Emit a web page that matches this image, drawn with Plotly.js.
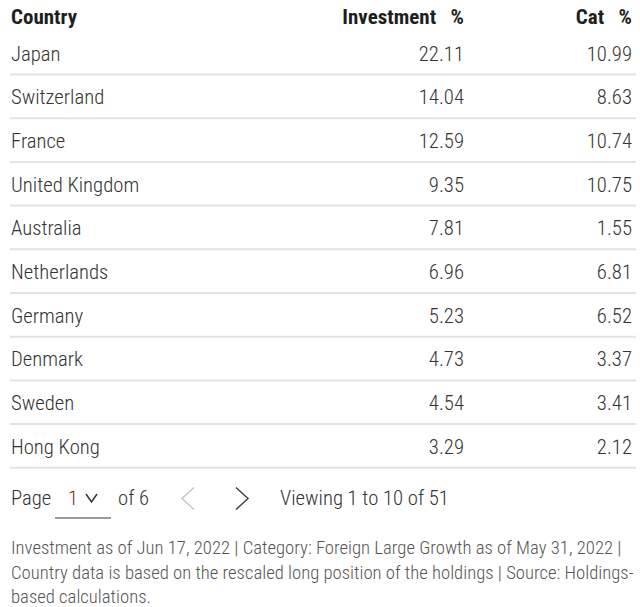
<!DOCTYPE html>
<html><head><meta charset="utf-8">
<script src="https://cdn.plot.ly/plotly-3.0.1.min.js"></script>
<style>html,body{margin:0;padding:0;background:#fff;overflow:hidden}#chart{width:640px;height:610px;margin-top:-3px}</style>
</head><body><div id="chart"></div>
<script>
const headers = ["Country", "Investment\u00a0\u00a0\u00a0%", "Cat\u00a0\u00a0\u00a0%"];
const countries = ["Japan","Switzerland","France","United Kingdom","Australia","Netherlands","Germany","Denmark","Sweden","Hong Kong"];
const investment = [22.11,14.04,12.59,9.35,7.81,6.96,5.23,4.73,4.54,3.29];
const category = [10.99,8.63,10.74,10.75,1.55,6.81,6.52,3.37,3.41,2.12];
const footnoteLines = [
  "Investment as of Jun 17, 2022 | Category: Foreign Large Growth as of May 31, 2022 |",
  "Country data is based on the rescaled long position of the holdings | Source: Holdings-",
  "based calculations."
];

const OFF = 3;                 // page is drawn 3px higher; screen y = layout y - OFF
const W = 640, H = 607 + OFF;
const FONT = "'Roboto Condensed', 'Liberation Sans Narrow', 'Arial Narrow', 'DejaVu Sans Condensed', sans-serif";
const headerH = 28.5, rowH = 43.7;
const firstLine = 74.5;        // screen y of first separator
const x0 = 3;

const trace = {
  type: "table",
  domain: {x: [x0 / W, 1], y: [0, 1]},
  columnwidth: [297, 172, 168],
  header: {
    values: headers.map(h => "<b>" + h + "</b>"),
    align: ["left", "right", "right"],
    height: headerH,
    fill: {color: "#fff"},
    line: {width: 0, color: "#fff"},
    font: {family: FONT, size: 21, color: "#1e1e1e"}
  },
  cells: {
    values: [countries, investment.map(v => v.toFixed(2)), category.map(v => v.toFixed(2))],
    align: ["left", "right", "right"],
    height: rowH,
    fill: {color: "#fff"},
    line: {width: 0, color: "#fff"},
    font: {family: FONT, size: 20.7, weight: 300, color: "#333"}
  }
};

const px = x => x / W, py = y => 1 - (y + OFF) / H;
const shapes = [];
for (let i = 0; i < countries.length; i++) {
  const yb = firstLine + rowH * i;
  shapes.push({type: "line", xref: "paper", yref: "paper", x0: px(10), x1: px(636),
    y0: py(yb), y1: py(yb), line: {color: "#e2e2e2", width: 2}});
}
// pager decorations
shapes.push({type: "line", xref: "paper", yref: "paper", x0: px(55), x1: px(111),
  y0: py(518), y1: py(518), line: {color: "#9a9a9a", width: 2}});
function chevron(pts, color, w) {
  return {type: "path", xref: "paper", yref: "paper",
    path: "M" + pts.map(p => px(p[0]) + "," + py(p[1])).join(" L"),
    line: {color, width: w}};
}
shapes.push(chevron([[86, 494], [91.5, 502], [97, 494]], "#333", 1.5));
shapes.push(chevron([[194, 487.5], [182, 498.5], [194, 509.5]], "#c4c4c4", 1.5));
shapes.push(chevron([[236, 487.5], [248, 498.5], [236, 509.5]], "#444", 1.5));

function ann(text, x, y, color, size, weight) {
  return {text, x: px(x), y: py(y), xref: "paper", yref: "paper", showarrow: false,
    xanchor: "left", yanchor: "middle", align: "left",
    font: {family: FONT, size: size || 20.7, weight: weight || 300, color: color || "#333"}};
}
const annotations = [
  ann("Page", 9, 498),
  ann("1", 66, 498, "#8b2a1a"),
  ann("of 6", 116, 498),
  ann("Viewing 1 to 10 of 51", 278, 498),
];
footnoteLines.forEach((t, i) => annotations.push(ann(t, 9, 548 + 24.5 * i, "#555", 18.7)));

Plotly.newPlot("chart", [trace], {
  width: W, height: H, margin: {l: 0, r: 0, t: 0, b: 0},
  paper_bgcolor: "#fff", plot_bgcolor: "#fff", showlegend: false,
  shapes, annotations
}, {displayModeBar: false, staticPlot: true});
</script></body></html>
